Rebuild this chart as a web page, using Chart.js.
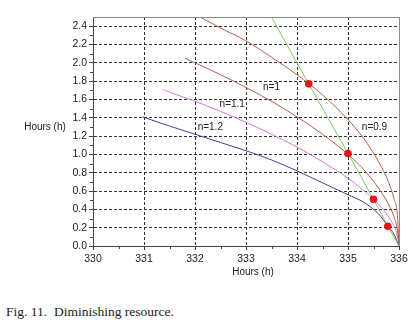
<!DOCTYPE html>
<html>
<head>
<meta charset="utf-8">
<script src="https://cdn.jsdelivr.net/npm/chart.js@4/dist/chart.umd.min.js"></script>
<style>
html, body { margin: 0; padding: 0; background: #fff; }
#wrap { position: relative; width: 413px; height: 336px; }
#c { position: absolute; left: 0; top: 0; }
#cap { position: absolute; left: 6px; top: 304px; font: 13.5px "Liberation Serif", "Times New Roman", serif; color: #222; white-space: pre; }
</style>
</head>
<body>
<div id="wrap">
  <canvas id="c" width="413" height="290"></canvas>
  <div id="cap">Fig. 11.  Diminishing resource.</div>
</div>
<script>
// curves (x = hours, y = hours)
const xN09 = [332.0, 332.5, 333.0, 333.5, 334.0, 334.5, 335.0, 335.3, 335.6, 335.8, 335.9, 335.97, 336.0];
const yN09 = [2.53, 2.38, 2.24, 2.06, 1.87, 1.65, 1.38, 1.18, 0.92, 0.69, 0.52, 0.33, 0.0];

const xN10 = [331.8, 332.0, 332.5, 333.0, 333.5, 334.0, 334.5, 335.0, 335.3, 335.6, 335.8, 335.9, 335.97, 336.0];
const yN10 = [2.05, 2.0, 1.87, 1.73, 1.58, 1.41, 1.22, 1.0, 0.84, 0.63, 0.45, 0.32, 0.17, 0.0];

const xN11 = [331.37, 331.5, 332.0, 332.5, 333.0, 333.5, 334.0, 334.5, 335.0, 335.3, 335.5, 335.7, 335.85, 335.95, 336.0];
const yN11 = [1.71, 1.68, 1.58, 1.47, 1.35, 1.22, 1.08, 0.92, 0.74, 0.61, 0.51, 0.39, 0.27, 0.15, 0.0];

const xN12 = [330.97, 331.5, 332.0, 332.5, 333.0, 333.5, 334.0, 334.5, 335.0, 335.3, 335.6, 335.78, 335.9, 336.0];
const yN12 = [1.41, 1.31, 1.22, 1.13, 1.04, 0.94, 0.82, 0.69, 0.56, 0.48, 0.35, 0.22, 0.13, 0.0];

const xGreen = [333.4, 334.23, 335.0, 335.5, 335.78, 336.0];
const yGreen = [2.6, 1.77, 1.01, 0.51, 0.22, 0.0];

const xDots = [334.23, 335.0, 335.5, 335.78];
const yDots = [1.77, 1.01, 0.51, 0.215];

const curveLabels = ['n=1', 'n=1.1', 'n=1.2', 'n=0.9'];
const labelX = [333.5, 332.73, 332.3, 335.52];
const labelY = [1.73, 1.55, 1.30, 1.30];

const xTicks = [330, 331, 332, 333, 334, 335, 336];
const yTicks = [0, 0.2, 0.4, 0.6, 0.8, 1.0, 1.2, 1.4, 1.6, 1.8, 2.0, 2.2, 2.4];

const pts = (xs, ys) => xs.map((v, i) => ({ x: v, y: ys[i] }));

function curve(xs, ys, color) {
    return {
        type: 'line',
        data: pts(xs, ys),
        borderColor: color,
        borderWidth: 1,
        pointRadius: 0,
        fill: false,
        cubicInterpolationMode: 'monotone'
    };
}

const sans = '"Liberation Sans", Arial, sans-serif';

const extras = {
    id: 'extras',
    afterDraw(chart) {
        const { ctx, chartArea: a, scales: { x, y } } = chart;
        ctx.save();
        // top and right frame
        ctx.strokeStyle = '#8a8a8a';
        ctx.lineWidth = 1;
        ctx.beginPath();
        ctx.moveTo(a.left, a.top + 0.5);
        ctx.lineTo(Math.round(a.right) + 0.5, a.top + 0.5);
        ctx.lineTo(Math.round(a.right) + 0.5, a.bottom);
        ctx.stroke();
        // minor ticks
        ctx.strokeStyle = '#444';
        ctx.beginPath();
        for (let i = 0; i < yTicks.length - 1; i++) {
            const py = Math.round(y.getPixelForValue((yTicks[i] + yTicks[i + 1]) / 2)) + 0.5;
            ctx.moveTo(a.left - 3, py);
            ctx.lineTo(a.left, py);
        }
        for (let i = 0; i < xTicks.length - 1; i++) {
            const px = Math.round(x.getPixelForValue((xTicks[i] + xTicks[i + 1]) / 2)) + 0.5;
            ctx.moveTo(px, a.bottom);
            ctx.lineTo(px, a.bottom + 3);
        }
        ctx.stroke();
        // curve labels
        ctx.font = '10px ' + sans;
        ctx.fillStyle = '#222';
        ctx.textAlign = 'center';
        ctx.textBaseline = 'middle';
        curveLabels.forEach((t, i) => {
            ctx.fillText(t, x.getPixelForValue(labelX[i]), y.getPixelForValue(labelY[i]));
        });
        // axis titles
        ctx.fillText('Hours (h)', (a.left + a.right) / 2 + 7, a.bottom + 26);
        ctx.fillText('Hours (h)', 45, y.getPixelForValue(1.3));
        ctx.restore();
    }
};

const ctx = document.getElementById('c').getContext('2d');
new Chart(ctx, {
    data: {
        datasets: [
            {
                type: 'scatter',
                data: pts(xDots, yDots),
                backgroundColor: '#e8141c',
                borderColor: '#e8141c',
                pointRadius: 3.8,
                borderWidth: 0
            },
            curve(xGreen, yGreen, '#7fc85f'),
            curve(xN09, yN09, '#b4604c'),
            curve(xN10, yN10, '#b4604c'),
            curve(xN11, yN11, '#d47ad4'),
            curve(xN12, yN12, '#42428c')
        ]
    },
    options: {
        responsive: false,
        animation: false,
        layout: { padding: { top: 17, right: 14, left: 0, bottom: 0 } },
        plugins: { legend: { display: false }, tooltip: { enabled: false } },
        scales: {
            x: {
                type: 'linear',
                min: 330,
                max: 336,
                afterBuildTicks: s => { s.ticks = xTicks.map(v => ({ value: v })); },
                afterFit: s => { s.height = 44; },
                ticks: {
                    autoSkip: false,
                    maxRotation: 0,
                    padding: 3,
                    color: '#222',
                    font: { family: sans, size: 10.5 },
                    callback: v => String(v)
                },
                grid: {
                    color: c => (c.tick && (c.tick.value === 330 || c.tick.value === 336)) ? 'rgba(0,0,0,0)' : '#333',
                    tickColor: '#444',
                    tickLength: 4,
                    lineWidth: 1
                },
                border: { display: true, color: '#444', width: 1, dash: [3, 2] }
            },
            y: {
                min: 0,
                max: 2.5,
                afterBuildTicks: s => { s.ticks = yTicks.map(v => ({ value: v })); },
                afterFit: s => { s.width = 93; },
                ticks: {
                    padding: 2,
                    color: '#222',
                    font: { family: sans, size: 10.5 },
                    callback: v => v.toFixed(1)
                },
                grid: {
                    color: c => (c.tick && c.tick.value === 0) ? 'rgba(0,0,0,0)' : '#333',
                    tickColor: '#444',
                    tickLength: 4,
                    lineWidth: 1
                },
                border: { display: true, color: '#444', width: 1, dash: [3, 2] }
            }
        }
    },
    plugins: [extras]
});
</script>
</body>
</html>
